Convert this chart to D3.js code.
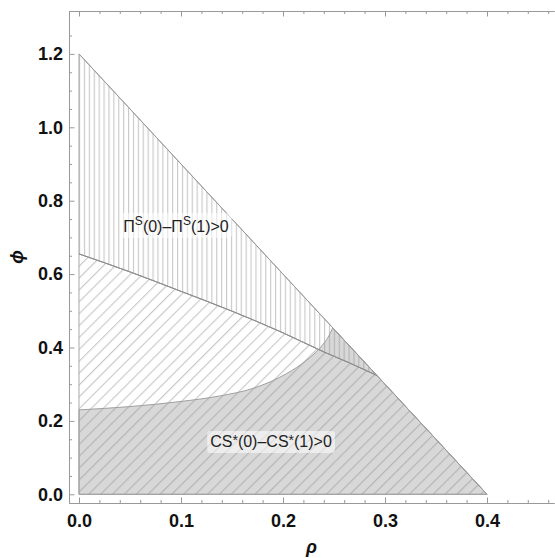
<!DOCTYPE html>
<html lang="en">

<head>
    <meta charset="UTF-8">
    <title>Region plot</title>
    <script src="https://d3js.org/d3.v7.min.js"></script>
    <style>
        body {
            margin: 0;
            background: white;
            font-family: "Liberation Sans", Arial, sans-serif;
        }

        .frame path,
        .frame line {
            stroke: #999;
            stroke-width: 1px;
        }

        .frame text {
            font-size: 18px;
            font-weight: bold;
            fill: #111;
            font-family: "Liberation Sans", Arial, sans-serif;
        }

        .region-label {
            font-size: 16px;
            fill: #222;
        }
    </style>
</head>

<body>
    <svg id="svg" width="555" height="558"></svg>

    <script>
        // Plot range (data units) and frame position (pixels)
        const rhoRange = [-0.0098, 0.4657];
        const phiRange = [-0.0237, 1.3169];
        const frame = { left: 69, right: 554, top: 11, bottom: 503 };

        // Tick values
        const rhoMajor = [0, 0.1, 0.2, 0.3, 0.4];
        const rhoMinor = [0.02, 0.04, 0.06, 0.08, 0.12, 0.14, 0.16, 0.18, 0.22, 0.24, 0.26, 0.28,
            0.32, 0.34, 0.36, 0.38, 0.42, 0.44, 0.46];
        const phiMajor = [0, 0.2, 0.4, 0.6, 0.8, 1.0, 1.2];
        const phiMinor = [0.05, 0.1, 0.15, 0.25, 0.3, 0.35, 0.45, 0.5, 0.55, 0.65, 0.7, 0.75,
            0.85, 0.9, 0.95, 1.05, 1.1, 1.15, 1.25];

        // Outer boundary of the feasible triangle [rho, phi]
        const outerTop = [0, 1.2];
        const outerRight = [0.4, 0];
        const origin = [0, 0];

        // Boundary of Pi^S(0) - Pi^S(1) > 0
        const piCurve = [[0, 0.655], [0.05, 0.606], [0.1, 0.553], [0.15, 0.499], [0.2, 0.44],
            [0.24, 0.388], [0.266, 0.357], [0.292, 0.324]];

        // Boundary of CS*(0) - CS*(1) > 0
        const csCurve = [[0, 0.23], [0.05, 0.239], [0.1, 0.253], [0.138, 0.268], [0.171, 0.289],
            [0.2036, 0.329], [0.223, 0.365], [0.236, 0.398], [0.245, 0.432], [0.2488, 0.4536]];

        const svg = d3.select("#svg");

        const x = d3.scaleLinear().domain(rhoRange).range([frame.left, frame.right]);
        const y = d3.scaleLinear().domain(phiRange).range([frame.bottom, frame.top]);

        // hatch patterns
        const defs = svg.append("defs");

        defs.append("pattern")
            .attr("id", "vhatch")
            .attr("patternUnits", "userSpaceOnUse")
            .attr("x", x(0))
            .attr("width", 4.9)
            .attr("height", 10)
            .append("line")
            .attr("x1", 0.6).attr("x2", 0.6)
            .attr("y1", 0).attr("y2", 10)
            .attr("stroke", "#c6c6c6")
            .attr("stroke-width", 1.1);

        defs.append("pattern")
            .attr("id", "dhatch")
            .attr("patternUnits", "userSpaceOnUse")
            .attr("width", 8.4)
            .attr("height", 10)
            .attr("patternTransform", "rotate(45)")
            .append("line")
            .attr("x1", 0.6).attr("x2", 0.6)
            .attr("y1", 0).attr("y2", 10)
            .attr("stroke", "#c6c6c6")
            .attr("stroke-width", 1.1);

        const curveGen = d3.line()
            .x(d => x(d[0]))
            .y(d => y(d[1]))
            .curve(d3.curveMonotoneX);

        // curve followed by straight edges, closed
        const regionPath = (curve, tail) =>
            curveGen(curve) + tail.map(p => `L${x(p[0])},${y(p[1])}`).join("") + "Z";

        const plot = svg.append("g");

        // region above the Pi curve: vertical hatch
        plot.append("path")
            .attr("d", regionPath(piCurve, [outerTop]))
            .attr("fill", "url(#vhatch)")
            .attr("stroke", "#a8a8a8")
            .attr("stroke-width", 1);

        // region below the Pi curve: diagonal hatch
        plot.append("path")
            .attr("d", regionPath(piCurve, [outerRight, origin]))
            .attr("fill", "url(#dhatch)")
            .attr("stroke", "#a8a8a8")
            .attr("stroke-width", 1);

        // CS region: translucent grey on top
        plot.append("path")
            .attr("d", regionPath(csCurve, [outerRight, origin]))
            .attr("fill", "#8e8e8e")
            .attr("fill-opacity", 0.35)
            .attr("stroke", "#a0a0a0")
            .attr("stroke-width", 1);

        // boundary lines drawn again so they sit on top
        plot.append("path")
            .attr("d", curveGen(piCurve))
            .attr("fill", "none")
            .attr("stroke", "#8c8c8c")
            .attr("stroke-width", 1);

        plot.append("path")
            .attr("d", d3.line().x(d => x(d[0])).y(d => y(d[1]))([outerTop, outerRight]))
            .attr("fill", "none")
            .attr("stroke", "#999")
            .attr("stroke-width", 1);

        // Labels with soft background boxes
        const addLabel = (cx, baseline, parts, boxOpacity) => {
            const g = svg.append("g");
            const rect = g.append("rect");
            const t = g.append("text")
                .attr("class", "region-label")
                .attr("x", cx)
                .attr("y", baseline)
                .attr("text-anchor", "middle");
            parts.forEach(p => {
                t.append("tspan")
                    .attr("font-size", p.sup ? p.size : 16)
                    .attr("dy", p.dy || 0)
                    .text(p.text);
            });
            const bb = t.node().getBBox();
            rect.attr("x", bb.x - 3)
                .attr("y", bb.y - 1)
                .attr("width", bb.width + 6)
                .attr("height", bb.height + 4)
                .attr("rx", 3)
                .attr("fill", "white")
                .attr("fill-opacity", boxOpacity);
        };

        addLabel(176, 232, [
            { text: "Π" },
            { text: "S", sup: true, size: 12, dy: -7 },
            { text: "(0)–Π", dy: 7 },
            { text: "S", sup: true, size: 12, dy: -7 },
            { text: "(1)>0", dy: 7 }
        ], 0.55);

        addLabel(271, 447, [
            { text: "CS" },
            { text: "*", sup: true, size: 14, dy: -2 },
            { text: "(0)–CS", dy: 2 },
            { text: "*", sup: true, size: 14, dy: -2 },
            { text: "(1)>0", dy: 2 }
        ], 0.55);

        // Frame axes, ticks pointing inwards
        const fmt = d3.format(".1f");

        svg.append("g")
            .attr("class", "frame")
            .attr("transform", `translate(0,${frame.bottom})`)
            .call(d3.axisBottom(x).tickValues(rhoMajor).tickSize(-5.5).tickSizeOuter(0)
                .tickPadding(11).tickFormat(fmt));

        svg.append("g")
            .attr("class", "frame")
            .attr("transform", `translate(0,${frame.bottom})`)
            .call(d3.axisBottom(x).tickValues(rhoMinor).tickSize(-3).tickSizeOuter(0).tickFormat(""));

        svg.append("g")
            .attr("class", "frame")
            .attr("transform", `translate(0,${frame.top})`)
            .call(d3.axisTop(x).tickValues(rhoMajor).tickSize(-5.5).tickSizeOuter(0).tickFormat(""));

        svg.append("g")
            .attr("class", "frame")
            .attr("transform", `translate(0,${frame.top})`)
            .call(d3.axisTop(x).tickValues(rhoMinor).tickSize(-3).tickSizeOuter(0).tickFormat(""));

        svg.append("g")
            .attr("class", "frame")
            .attr("transform", `translate(${frame.left},0)`)
            .call(d3.axisLeft(y).tickValues(phiMajor).tickSize(-5.5).tickSizeOuter(0)
                .tickPadding(6).tickFormat(fmt));

        svg.append("g")
            .attr("class", "frame")
            .attr("transform", `translate(${frame.left},0)`)
            .call(d3.axisLeft(y).tickValues(phiMinor).tickSize(-3).tickSizeOuter(0).tickFormat(""));

        // Axis titles
        svg.append("text")
            .attr("x", (frame.left + frame.right) / 2)
            .attr("y", 553)
            .attr("text-anchor", "middle")
            .attr("font-size", 18)
            .attr("font-weight", "bold")
            .attr("font-style", "italic")
            .attr("fill", "#111")
            .text("ρ");

        svg.append("text")
            .attr("transform", `translate(23,${(frame.top + frame.bottom) / 2}) rotate(-90)`)
            .attr("text-anchor", "middle")
            .attr("font-size", 18)
            .attr("font-weight", "bold")
            .attr("font-style", "italic")
            .attr("fill", "#111")
            .text("ϕ");
    </script>

</body>

</html>
